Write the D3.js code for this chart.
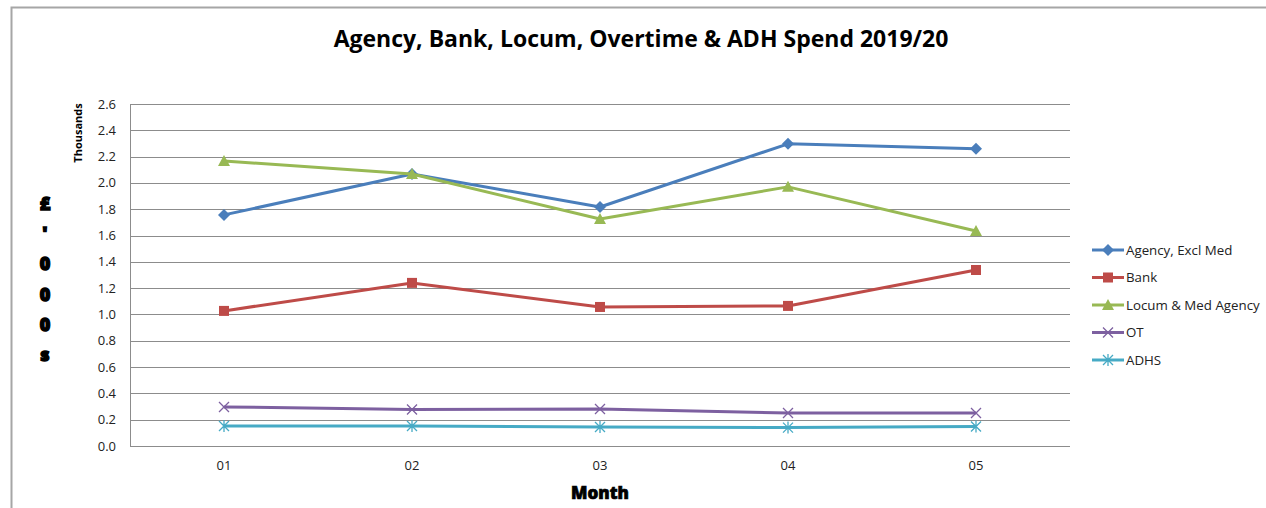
<!DOCTYPE html>
<html>
<head>
<meta charset="utf-8">
<script src="https://cdn.jsdelivr.net/npm/d3@7"></script>
<style>
  body { margin: 0; background: #fff; }
  text { font-family: "Open Sans", "Liberation Sans", sans-serif; }
</style>
</head>
<body>
<div id="plot"></div>
<script>
// chart data
const months = ["01", "02", "03", "04", "05"];
const agency = [1.757, 2.068, 1.817, 2.297, 2.259];
const bank = [1.027, 1.240, 1.057, 1.065, 1.338];
const locum = [2.167, 2.068, 1.726, 1.970, 1.635];
const ot = [0.297, 0.278, 0.281, 0.251, 0.251];
const adhs = [0.152, 0.152, 0.144, 0.140, 0.148];
const yTicks = [0, 0.2, 0.4, 0.6, 0.8, 1.0, 1.2, 1.4, 1.6, 1.8, 2.0, 2.2, 2.4, 2.6];

const series = [
    { name: "Agency, Excl Med", values: agency, color: "#4a7ebb", marker: "diamond" },
    { name: "Bank", values: bank, color: "#be4b48", marker: "square" },
    { name: "Locum & Med Agency", values: locum, color: "#98b954", marker: "triangle" },
    { name: "OT", values: ot, color: "#7d60a0", marker: "x" },
    { name: "ADHS", values: adhs, color: "#46aac5", marker: "star" }
];

const width = 1266;
const height = 508;
const plot = { left: 130, right: 1070, top: 104, bottom: 446 };

const svg = d3.select("div#plot")
    .append("svg")
    .attr("width", width)
    .attr("height", height);

// outer chart border (left and top only visible)
svg.append("path")
    .attr("d", "M11.5,508 V7.5 H1266")
    .attr("fill", "none")
    .attr("stroke", "#a6a6a6")
    .attr("stroke-width", 2);

const x = d3.scaleBand()
    .domain(months)
    .range([plot.left, plot.right]);

const y = d3.scaleLinear()
    .domain([0, 2.6])
    .range([plot.bottom, plot.top]);

// gridlines
svg.append("g")
    .selectAll("line")
    .data(yTicks)
    .enter()
    .append("line")
    .attr("x1", plot.left)
    .attr("x2", plot.right)
    .attr("y1", d => Math.round(y(d)) + 0.5)
    .attr("y2", d => Math.round(y(d)) + 0.5)
    .attr("stroke", "#8c8c8c")
    .attr("stroke-width", 1);

// left axis line
svg.append("line")
    .attr("x1", plot.left + 0.5)
    .attr("x2", plot.left + 0.5)
    .attr("y1", plot.top)
    .attr("y2", plot.bottom + 1)
    .attr("stroke", "#8c8c8c");

// y tick labels
svg.append("g")
    .selectAll("text")
    .data(yTicks)
    .enter()
    .append("text")
    .attr("x", 116)
    .attr("y", d => y(d))
    .attr("dy", "0.35em")
    .attr("text-anchor", "end")
    .attr("font-size", 13)
    .attr("fill", "#222")
    .text(d => d3.format(".1f")(d));

// x tick labels
svg.append("g")
    .selectAll("text")
    .data(months)
    .enter()
    .append("text")
    .attr("x", d => x(d) + x.bandwidth() / 2)
    .attr("y", 470)
    .attr("text-anchor", "middle")
    .attr("font-size", 13)
    .attr("fill", "#222")
    .text(d => d);

// title
svg.append("text")
    .attr("x", 641)
    .attr("y", 47)
    .attr("text-anchor", "middle")
    .attr("font-size", 23)
    .attr("font-weight", "bold")
    .attr("fill", "#000")
    .text("Agency, Bank, Locum, Overtime & ADH Spend 2019/20");

// Thousands
svg.append("text")
    .attr("transform", "translate(82,133) rotate(-90)")
    .attr("text-anchor", "middle")
    .attr("font-size", 11)
    .attr("font-weight", "bold")
    .text("Thousands");

// stacked y title
const yTitle = ["£", "'", "0", "0", "0", "s"];
svg.append("g")
    .selectAll("text")
    .data(yTitle)
    .enter()
    .append("text")
    .attr("x", 45)
    .attr("y", (d, i) => 210 + i * 30.2)
    .attr("text-anchor", "middle")
    .attr("font-family", "'DejaVu Sans', sans-serif")
    .attr("font-size", 18)
    .attr("font-weight", "900")
    .attr("stroke", "#000")
    .attr("stroke-width", 1.4)
    .text(d => d);

// x title
svg.append("text")
    .attr("x", 600)
    .attr("y", 499)
    .attr("text-anchor", "middle")
    .attr("font-family", "'DejaVu Sans', sans-serif")
    .attr("font-size", 17)
    .attr("font-weight", "900")
    .attr("stroke", "#000")
    .attr("stroke-width", 0.7)
    .text("Month");

function drawMarker(g, type, color) {
    if (type === "diamond") {
        g.append("path").attr("d", "M0,-6 L6,0 L0,6 L-6,0 Z").attr("fill", color);
    } else if (type === "square") {
        g.append("rect").attr("x", -5).attr("y", -5).attr("width", 10).attr("height", 10).attr("fill", color);
    } else if (type === "triangle") {
        g.append("path").attr("d", "M0,-6 L6,5 L-6,5 Z").attr("fill", color);
    } else if (type === "x") {
        g.append("path").attr("d", "M-5,-5 L5,5 M5,-5 L-5,5")
            .attr("stroke", color).attr("stroke-width", 1.3).attr("fill", "none");
    } else {
        g.append("path").attr("d", "M-5,-5 L5,5 M5,-5 L-5,5 M0,-6 L0,6")
            .attr("stroke", color).attr("stroke-width", 1.3).attr("fill", "none");
    }
}

const line = d3.line()
    .x((d, i) => x(months[i]) + x.bandwidth() / 2)
    .y(d => y(d));

series.forEach(function(s) {
    svg.append("path")
        .datum(s.values)
        .attr("d", line)
        .attr("fill", "none")
        .attr("stroke", s.color)
        .attr("stroke-width", 3)
        .attr("stroke-linejoin", "round");

    s.values.forEach(function(v, i) {
        const g = svg.append("g")
            .attr("transform", "translate(" + (x(months[i]) + x.bandwidth() / 2) + "," + y(v) + ")");
        drawMarker(g, s.marker, s.color);
    });
});

// legend
const legend = svg.append("g");
series.forEach(function(s, i) {
    const ly = 250 + i * 27.5;
    legend.append("line")
        .attr("x1", 1092).attr("x2", 1124)
        .attr("y1", ly).attr("y2", ly)
        .attr("stroke", s.color)
        .attr("stroke-width", 3);
    const g = legend.append("g").attr("transform", "translate(1108," + ly + ")");
    drawMarker(g, s.marker, s.color);
    legend.append("text")
        .attr("x", 1126)
        .attr("y", ly)
        .attr("dy", "0.35em")
        .attr("font-size", 13.3)
        .attr("fill", "#222")
        .text(s.name);
});
</script>
</body>
</html>
